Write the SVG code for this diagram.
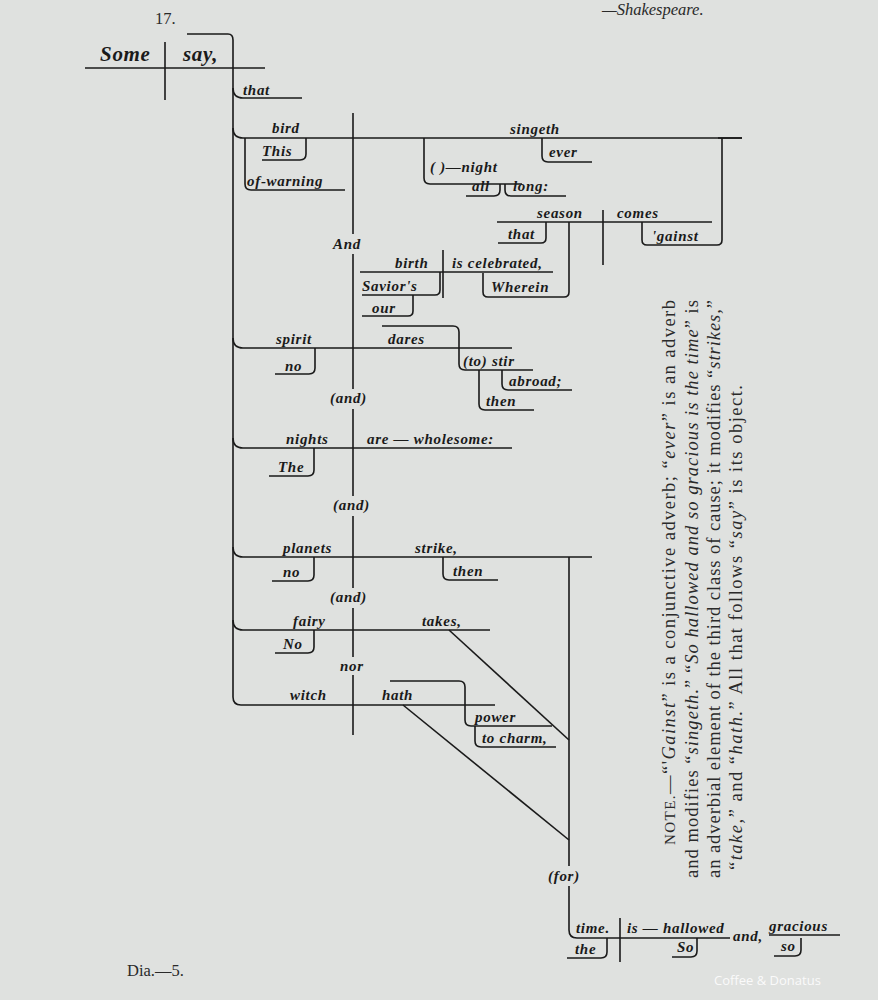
<svg xmlns="http://www.w3.org/2000/svg" width="878" height="1000" viewBox="0 0 878 1000">
<style>
.w{font-family:"Liberation Serif",serif;font-style:italic;font-weight:bold;font-size:15px;letter-spacing:0.7px;fill:#1a1a1a}
.big{font-size:21px}
.n{font-family:"Liberation Serif",serif;font-size:16.5px;fill:#2a2a2a}
.nt{font-size:18.5px}
.i{font-style:italic}
.l{fill:none;stroke:#1a1a1a;stroke-width:1.6}
.bg{fill:#dfe1df}
</style>
<rect width="878" height="1000" fill="#dfe1df"/>
<text class="n i" x="602" y="15" font-size="15">—Shakespeare.</text>
<text class="n" x="155" y="24" font-size="15">17.</text>
<g id="connectors">
<path class="l" d="M187,34 H228 q5,0 5,6 V697 q0,8 8,8 H495"/>
<path class="l" stroke-width="4" d="M85,68 H265"/>
<path class="l" stroke-width="3" d="M165,42 V100"/>
<path class="l" d="M233,88 q0,10 10,10 H302"/>
<path class="l" d="M233,128 q0,10 10,10 H742"/>
<path class="l" stroke-width="2.5" d="M718,138 H742"/>
<path class="l" d="M353,113 V735"/>
<path class="l" d="M306,138 V154 q0,6 -6,6 H262"/>
<path class="l" d="M245,138 V184 q0,6 6,6 H345"/>
<path class="l" d="M424,138 V178 q0,6 6,6 H522"/>
<path class="l" d="M500,184 V190 q0,6 -6,6 H466"/>
<path class="l" d="M505,184 V190 q0,6 6,6 H566"/>
<path class="l" d="M542,138 V156 q0,6 6,6 H592"/>
<path class="l" d="M642,222 V240 q0,5 5,5 H717 q5,0 5,-5 V138"/>
<path class="l" d="M497,222 H712"/>
<path class="l" d="M603,210 V265"/>
<path class="l" d="M546,222 V238 q0,5 -5,5 H498"/>
<path class="l" d="M483,273 V292 q0,5 5,5 H564 q5,0 5,-5 V222"/>
<path class="l" d="M360,272 H553"/>
<path class="l" d="M443,250 V298"/>
<path class="l" d="M440,272 V290 q0,5 -5,5 H362"/>
<path class="l" d="M413,295 V311 q0,5 -5,5 H362"/>
<path class="l" d="M233,338 q0,10 10,10 H512"/>
<path class="l" d="M315,348 V368 q0,6 -6,6 H275"/>
<path class="l" d="M382,326 H453 q6,0 6,6 V364 q0,6 6,6 H533"/>
<path class="l" d="M502,370 V384 q0,6 6,6 H572"/>
<path class="l" d="M479,370 V404 q0,6 6,6 H534"/>
<path class="l" d="M233,438 q0,10 10,10 H512"/>
<path class="l" d="M314,448 V470 q0,6 -6,6 H269"/>
<path class="l" d="M233,547 q0,10 10,10 H592"/>
<path class="l" d="M314,557 V575 q0,6 -6,6 H272"/>
<path class="l" d="M443,557 V574 q0,6 6,6 H498"/>
<path class="l" d="M569,557 V930 q0,8 8,8 H722 l8,0"/>
<path class="l" d="M769,935 H840"/>
<path class="l" d="M233,620 q0,10 10,10 H490"/>
<path class="l" d="M314,630 V647 q0,6 -6,6 H275"/>
<path class="l" d="M449,630 L569,740"/>
<path class="l" d="M403,705 L569,840"/>
<path class="l" d="M390,681 H459 q6,0 6,6 V720 q0,6 6,6 H552"/>
<path class="l" d="M475,726 V741 q0,6 6,6 H556"/>
<path class="l" d="M620,918 V962"/>
<path class="l" d="M607,938 V952 q0,6 -6,6 H567"/>
<path class="l" d="M697,938 V951 q0,6 -6,6 H672"/>
<path class="l" d="M801,938 V950 q0,6 -6,6 H774"/>
<rect class="bg" x="330" y="234" width="40" height="20"/>
<rect class="bg" x="328" y="389" width="50" height="20"/>
<rect class="bg" x="330" y="496" width="50" height="20"/>
<rect class="bg" x="328" y="588" width="50" height="20"/>
<rect class="bg" x="338" y="657" width="32" height="18"/>
<rect class="bg" x="545" y="866" width="48" height="20"/>
</g>
<g id="n-some"><text class="w big" x="100" y="61">Some</text></g>
<g id="n-say"><text class="w big" x="183" y="61">say,</text></g>
<g id="n-that"><text class="w" x="243" y="95">that</text></g>
<g id="n-bird"><text class="w" x="272" y="133">bird</text></g>
<g id="n-singeth"><text class="w" x="510" y="134">singeth</text></g>
<g id="n-this"><text class="w" x="262" y="156">This</text></g>
<g id="n-ofwarning"><text class="w" x="247" y="186">of-warning</text></g>
<g id="n-night"><text class="w" x="430" y="172">( )—night</text></g>
<g id="n-all"><text class="w" x="472" y="191">all</text></g>
<g id="n-long"><text class="w" x="513" y="191">long:</text></g>
<g id="n-ever"><text class="w" x="549" y="157">ever</text></g>
<g id="n-season"><text class="w" x="537" y="218">season</text></g>
<g id="n-comes"><text class="w" x="617" y="218">comes</text></g>
<g id="n-that2"><text class="w" x="508" y="239">that</text></g>
<g id="n-gainst"><text class="w" x="652" y="241">'gainst</text></g>
<g id="n-and"><text class="w" x="333" y="249">And</text></g>
<g id="n-birth"><text class="w" x="395" y="268">birth</text></g>
<g id="n-iscel"><text class="w" x="452" y="268">is celebrated,</text></g>
<g id="n-saviors"><text class="w" x="362" y="291">Savior's</text></g>
<g id="n-wherein"><text class="w" x="491" y="292">Wherein</text></g>
<g id="n-our"><text class="w" x="372" y="313">our</text></g>
<g id="n-spirit"><text class="w" x="276" y="344">spirit</text></g>
<g id="n-dares"><text class="w" x="388" y="344">dares</text></g>
<g id="n-no1"><text class="w" x="285" y="371">no</text></g>
<g id="n-tostir"><text class="w" x="463" y="366">(to) stir</text></g>
<g id="n-abroad"><text class="w" x="509" y="386">abroad;</text></g>
<g id="n-then1"><text class="w" x="486" y="406">then</text></g>
<g id="n-and2"><text class="w" x="330" y="403">(and)</text></g>
<g id="n-nights"><text class="w" x="286" y="444">nights</text></g>
<g id="n-wholesome"><text class="w" x="367" y="444">are — wholesome:</text></g>
<g id="n-the1"><text class="w" x="278" y="472">The</text></g>
<g id="n-and3"><text class="w" x="333" y="510">(and)</text></g>
<g id="n-planets"><text class="w" x="283" y="553">planets</text></g>
<g id="n-strike"><text class="w" x="415" y="553">strike,</text></g>
<g id="n-no2"><text class="w" x="283" y="577">no</text></g>
<g id="n-then2"><text class="w" x="453" y="576">then</text></g>
<g id="n-and4"><text class="w" x="330" y="602">(and)</text></g>
<g id="n-fairy"><text class="w" x="293" y="626">fairy</text></g>
<g id="n-takes"><text class="w" x="422" y="626">takes,</text></g>
<g id="n-no3"><text class="w" x="283" y="649">No</text></g>
<g id="n-nor"><text class="w" x="340" y="671">nor</text></g>
<g id="n-witch"><text class="w" x="290" y="700">witch</text></g>
<g id="n-hath"><text class="w" x="382" y="700">hath</text></g>
<g id="n-power"><text class="w" x="475" y="722">power</text></g>
<g id="n-tocharm"><text class="w" x="482" y="743">to charm,</text></g>
<g id="n-for"><text class="w" x="548" y="881">(for)</text></g>
<g id="n-time"><text class="w" x="576" y="933">time.</text></g>
<g id="n-hallowed"><text class="w" x="627" y="933">is — hallowed</text></g>
<g id="n-and5"><text class="w" x="733" y="941">and,</text></g>
<g id="n-gracious"><text class="w" x="769" y="931">gracious</text></g>
<g id="n-the2"><text class="w" x="575" y="954">the</text></g>
<g id="n-so1"><text class="w" x="677" y="952">So</text></g>
<g id="n-so2"><text class="w" x="781" y="951">so</text></g>
<g id="note" class="n nt">
<text transform="translate(675,845) rotate(-90)" textLength="545" lengthAdjust="spacing"><tspan font-size="15">NOTE.</tspan>—“'<tspan class="i">Gainst</tspan>” is a conjunctive adverb; “<tspan class="i">ever</tspan>” is an adverb</text>
<text transform="translate(698,878) rotate(-90)" textLength="578" lengthAdjust="spacing">and modifies “<tspan class="i">singeth.</tspan>”  “<tspan class="i">So hallowed and so gracious is the time</tspan>” is</text>
<text transform="translate(720,878) rotate(-90)" textLength="578" lengthAdjust="spacing">an adverbial element of the third class of cause; it modifies “<tspan class="i">strikes,</tspan>”</text>
<text transform="translate(742,870) rotate(-90)" textLength="485" lengthAdjust="spacing">“<tspan class="i">take,</tspan>” and “<tspan class="i">hath.</tspan>”  All that follows “<tspan class="i">say</tspan>” is its object.</text>
</g>
<text class="n" x="127" y="976" font-size="13">Dia.—5.</text>
<text x="714" y="985" font-family="Open Sans, sans-serif" font-size="13" fill="#ffffff" opacity="0.85">Coffee &amp; Donatus</text>
</svg>
